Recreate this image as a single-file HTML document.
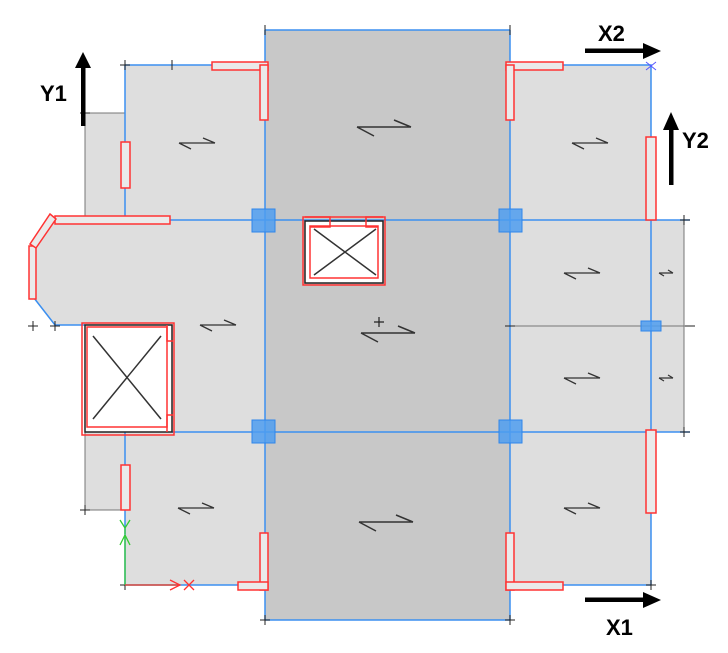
<!DOCTYPE html>
<html><head><meta charset="utf-8"><style>html,body{margin:0;padding:0;background:#fff}svg{display:block}</style></head><body>
<svg width="728" height="653" viewBox="0 0 728 653" xmlns="http://www.w3.org/2000/svg">
<defs>
<g id="s"><path d="M-18,0H18M-18,0l12,6M18,0l-12,-5" stroke="#333" stroke-width="1.3" fill="none"/></g>
<g id="sb"><path d="M-27,0H27M-27,0l17,9M27,0l-17,-7" stroke="#333" stroke-width="1.5" fill="none"/></g>
<g id="st"><path d="M-7,0H7M-7,0l5,3M7,0l-5,-3" stroke="#333" stroke-width="1.2" fill="none"/></g>
</defs>
<!-- light gray slabs -->
<g fill="#dedede">
<rect x="125" y="65" width="140" height="155"/>
<rect x="85" y="113" width="40" height="107"/>
<polygon points="55,220 265,220 265,432 172,432 172,325 55,325 34,298 34,245"/>
<rect x="125" y="432" width="140" height="153"/>
<rect x="85" y="432" width="40" height="78"/>
<rect x="510" y="65" width="141" height="155"/>
<rect x="510" y="220" width="174" height="212"/>
<rect x="510" y="432" width="141" height="153"/>
</g>
<rect x="265" y="30" width="245" height="590" fill="#c8c8c8"/>
<!-- gray edges -->
<g stroke="#777" stroke-width="1" fill="none">
<path d="M85,113H125M85,113V220M85,432V510H125M684,220V432M510,326H690"/>
</g>
<!-- blue lines -->
<g stroke="#3b8ff0" stroke-width="1.5" fill="none">
<path d="M265,30V620M510,30V620M265,30H510M265,620H510"/>
<path d="M125,65H265M510,65H651V585M125,65V220M125,220H690M172,432H690M125,432V585H265M510,585H651"/>
<path d="M55,325L34,298M55,325H85"/>
</g>
<!-- ticks -->
<g stroke="#222" stroke-width="1">
<path d="M120,65h10M125,60v10M172,60v10M265,25v10M510,25v10M85,108v10M80,113h10M684,215v10M680,220h10M684,427v10M680,432h10M85,505v10M80,510h10M120,585h10M125,580v10M265,615v10M510,615v10M505,620h10M260,620h10M651,580v10M646,585h10M505,326h10M685,326h10"/>
<path d="M28,326h10M33,321v10M50,326h10M55,321v10"/>
</g>
<!-- openings -->
<rect x="85" y="325" width="87" height="107" fill="#fff" stroke="#222" stroke-width="1.5"/>
<rect x="87" y="327" width="80" height="100" fill="none" stroke="#f33" stroke-width="1.5"/>
<rect x="82" y="323" width="92" height="112" fill="none" stroke="#f33" stroke-width="1.5"/>
<path d="M93,336L161,419M161,336L93,419" stroke="#333" stroke-width="1.5"/>
<path d="M167,325v16h6M167,432v-17h6" stroke="#f33" stroke-width="1.5" fill="none"/>
<rect x="305" y="221" width="78" height="62" fill="#fff" stroke="#222" stroke-width="1.5"/>
<rect x="310" y="226" width="68" height="52" fill="none" stroke="#f33" stroke-width="1.5"/>
<rect x="303" y="217" width="82" height="68" fill="none" stroke="#f33" stroke-width="1.5"/>
<path d="M314,229L376,275M376,229L314,275" stroke="#333" stroke-width="1.5"/>
<path d="M305,217h25v10h-20M383,217h-17v10h12" stroke="#f33" stroke-width="1.5" fill="none"/>
<!-- red walls -->
<g fill="#eaeaea" stroke="#f33" stroke-width="1.5">
<rect x="212" y="62" width="56" height="8"/>
<rect x="260" y="65" width="8" height="55"/>
<rect x="121" y="142" width="9" height="46"/>
<rect x="506" y="62" width="57" height="8"/>
<rect x="506" y="65" width="8" height="55"/>
<rect x="646" y="137" width="10" height="83"/>
<rect x="646" y="430" width="10" height="83"/>
<rect x="121" y="465" width="9" height="45"/>
<rect x="260" y="533" width="8" height="57"/>
<rect x="238" y="582" width="30" height="8"/>
<rect x="506" y="533" width="8" height="57"/>
<rect x="506" y="582" width="57" height="8"/>
<rect x="55" y="216" width="115" height="8"/>
<rect x="29" y="246" width="7" height="53"/>
<polygon points="50,214 56,219 36,248 30,244"/>
</g>
<!-- columns -->
<g fill="#4f9ef0" fill-opacity="0.85" stroke="#2f86ea" stroke-width="1">
<rect x="252" y="209" width="23" height="23"/>
<rect x="499" y="209" width="23" height="23"/>
<rect x="252" y="420" width="23" height="23"/>
<rect x="499" y="420" width="23" height="23"/>
<rect x="641" y="321" width="20" height="10"/>
</g>
<path d="M646,62l10,8M656,62l-10,8" stroke="#55f" stroke-width="1"/>
<!-- slab symbols -->
<use href="#s" x="197" y="143"/>
<use href="#sb" x="384" y="127"/>
<use href="#s" x="590" y="143"/>
<use href="#s" x="218" y="325"/>
<use href="#sb" x="388" y="333"/>
<path d="M379,317v10M374,322h10" stroke="#222" stroke-width="1.2"/>
<use href="#s" x="582" y="273"/>
<use href="#s" x="582" y="378"/>
<use href="#st" x="666" y="273"/>
<use href="#st" x="666" y="378"/>
<use href="#s" x="196" y="508"/>
<use href="#sb" x="386" y="522"/>
<use href="#s" x="582" y="508"/>
<!-- UCS -->
<path d="M125,585V535M125,585H180" stroke="#3c3" stroke-width="1.3"/>
<path d="M125,585H180" stroke="#f33" stroke-width="1.3"/>
<path d="M120,545l5,-10l5,10M120,520l5,8l5,-8M125,528v6" stroke="#3c3" stroke-width="1.3" fill="none"/>
<path d="M170,580l10,5l-10,5M184,580l10,10M194,580l-10,10" stroke="#f33" stroke-width="1.3" fill="none"/>
<!-- axis arrows -->
<g fill="#000">
<rect x="81" y="66" width="4.5" height="60"/><polygon points="75,68 91,68 83,52"/>
<rect x="669" y="128" width="4.5" height="57"/><polygon points="663,130 679,130 671,112"/>
<rect x="585" y="48.5" width="60" height="4.5"/><polygon points="643,43 643,59 661,51"/>
<rect x="585" y="597.5" width="60" height="4.5"/><polygon points="643,592 643,608 661,600"/>
</g>
<g font-family="Liberation Sans, sans-serif" font-weight="bold" font-size="22" fill="#000">
<text x="40" y="101">Y1</text>
<text x="682" y="148">Y2</text>
<text x="598" y="41">X2</text>
<text x="606" y="635">X1</text>
</g>
</svg>
</body></html>
